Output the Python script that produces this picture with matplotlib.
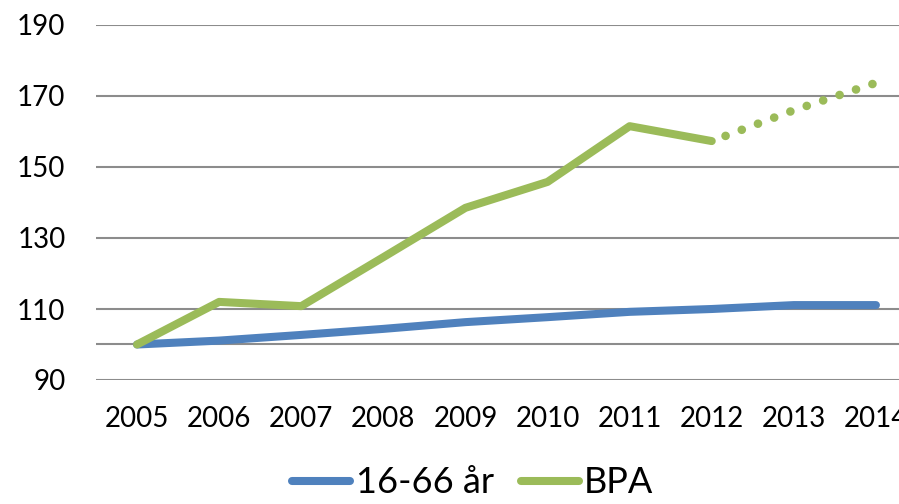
import matplotlib
matplotlib.use("Agg")
import matplotlib.pyplot as plt
from matplotlib.lines import Line2D

plt.rcParams['font.family'] = ['Lato', 'DejaVu Sans']

years = ['2005', '2006', '2007', '2008', '2009', '2010', '2011', '2012', '2013', '2014']
pop_16_66 = [100, 101.1, 102.7, 104.4, 106.3, 107.7, 109.2, 110.0, 111.1, 111.1]
bpa = [100, 112.0, 110.8, 124.6, 138.5, 145.8, 161.5, 157.3]
bpa_proj_years = ['2012', '2013', '2014']
bpa_proj = [157.3, 166.0, 173.7]
yticks = [90, 110, 130, 150, 170, 190]

blue = '#4F81BD'
green = '#9BBB59'

fig = plt.figure(figsize=(8.99, 5.04), dpi=100)
ax = fig.add_axes([96/899, 1-380/504, (917-96)/899, (380-25)/504])

x = list(range(len(years)))
idx = {y: i for i, y in enumerate(years)}

# gridlines every 20, plus the category axis crossing at 100
for v in yticks + [100]:
    ax.axhline(v, color='#8c8c8c', lw=1.5, zorder=1)

ax.plot(x, pop_16_66, color=blue, lw=5.8, solid_capstyle='round', solid_joinstyle='round', zorder=3)
ax.plot(x[:len(bpa)], bpa, color=green, lw=5.8, solid_capstyle='round', solid_joinstyle='round', zorder=4)
px = [idx[y] for y in bpa_proj_years]
ax.plot(px, bpa_proj, color=green, lw=6.2, linestyle=(0.3, (0.01, 2.0)),
        dash_capstyle='round', zorder=4)

ax.set_xlim(-0.5, len(years) - 0.5)
ax.set_ylim(90, 190)
ax.set_xticks(x)
ax.set_xticklabels(years)
ax.set_yticks(yticks)
for s in ax.spines.values():
    s.set_visible(False)
ax.tick_params(axis='both', length=0, labelsize=20, colors='black')
ax.tick_params(axis='y', pad=22)
ax.tick_params(axis='x', pad=19)

handles = [Line2D([], [], color=blue, lw=5.8, solid_capstyle='round'),
           Line2D([], [], color=green, lw=5.8, solid_capstyle='round')]
fig.legend(handles, ['16-66 år', 'BPA'], loc='center', bbox_to_anchor=(0.526, 0.042),
           ncol=2, frameon=False, fontsize=26, handlelength=1.6,
           handletextpad=0.15, columnspacing=0.75, borderpad=0)

fig.savefig('out.png', dpi=100)
